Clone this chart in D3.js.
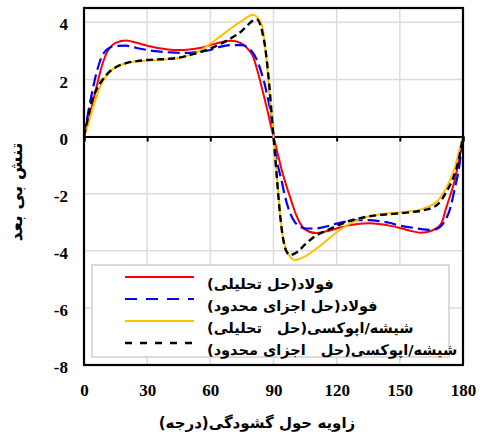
<!DOCTYPE html>
<html>
<head>
<meta charset="utf-8">
<script src="https://cdn.jsdelivr.net/npm/d3@7"></script>
<style>
  html, body { margin: 0; padding: 0; background: #fff; }
  svg { display: block; }
  .num { font-family: "Liberation Serif", "DejaVu Serif", serif; font-weight: bold; font-size: 17px; fill: #000; }
  .fa { font-family: "DejaVu Sans", sans-serif; font-weight: bold; fill: #000; white-space: pre; }
</style>
</head>
<body>
<svg id="chart" width="480" height="434"></svg>
<script>
// Crack-opening angle (degrees) at which every series is sampled
const angles = [0,2,4,6,8,10,12,15,20,25,30,35,40,45,50,55,60,65,70,75,78,80,82,84,85,86,87,88,89,90,
  91,92,93,94,95,96,98,100,102,105,110,115,120,125,130,135,140,145,150,155,160,165,168,170,172,174,176,178,180];

// Dimensionless stress: steel, analytical solution
const steelAnalytic = [0,0.5,1.15,1.75,2.35,2.8,3.08,3.28,3.36,3.28,3.18,3.1,3.05,3.03,3.05,3.1,3.2,3.3,3.35,3.25,3.05,2.85,2.4,1.85,1.55,1.25,0.95,0.62,0.3,0,
  -0.3,-0.6,-0.9,-1.2,-1.45,-1.7,-2.15,-2.6,-2.95,-3.25,-3.38,-3.32,-3.22,-3.12,-3.06,-3.04,-3.06,-3.12,-3.2,-3.3,-3.37,-3.3,-3.18,-3.0,-2.5,-2.05,-1.55,-0.85,0];

// Steel, finite element solution
const steelFem = [0,0.85,1.6,2.25,2.72,2.98,3.1,3.17,3.18,3.1,3.03,2.98,2.95,2.93,2.93,2.97,3.03,3.15,3.2,3.2,3.1,2.95,2.7,2.3,2.05,1.78,1.45,1.1,0.7,0,
  -0.6,-1.0,-1.3,-1.6,-1.95,-2.25,-2.7,-2.98,-3.12,-3.22,-3.22,-3.15,-3.05,-2.97,-2.93,-2.93,-2.96,-3.02,-3.12,-3.18,-3.24,-3.27,-3.22,-3.1,-2.88,-2.5,-1.85,-1.15,0];

// Glass/epoxy, analytical solution
const glassAnalytic = [0,0.42,0.95,1.4,1.8,2.05,2.25,2.43,2.57,2.63,2.66,2.68,2.71,2.75,2.85,3.0,3.25,3.52,3.8,4.05,4.2,4.26,4.2,3.98,3.75,3.15,2.4,1.6,0.8,0,
  -0.85,-1.75,-2.6,-3.3,-3.7,-3.95,-4.22,-4.32,-4.3,-4.2,-3.95,-3.66,-3.35,-3.1,-2.92,-2.8,-2.73,-2.69,-2.66,-2.62,-2.55,-2.4,-2.25,-2.05,-1.8,-1.5,-1.1,-0.55,0];

// Glass/epoxy, finite element solution
const glassFem = [0,0.7,1.3,1.65,1.9,2.1,2.26,2.42,2.57,2.64,2.68,2.7,2.72,2.76,2.85,2.95,3.08,3.25,3.45,3.7,3.92,4.05,4.1,3.85,3.55,3.15,2.55,1.8,0.9,0,
  -0.9,-1.8,-2.65,-3.3,-3.75,-4.0,-4.15,-4.1,-4.0,-3.78,-3.48,-3.3,-3.13,-2.98,-2.88,-2.8,-2.75,-2.72,-2.69,-2.65,-2.6,-2.5,-2.38,-2.2,-1.95,-1.68,-1.32,-0.8,0];

const xTicks = [0,30,60,90,120,150,180];
const yTicks = [-8,-6,-4,-2,0,2,4];
const legendLabels = [
  "فولاد(حل تحلیلی)",
  "فولاد(حل اجزای محدود)",
  "شیشه/اپوکسی(حل   تحلیلی)",
  "شیشه/اپوکسی(حل   اجزای محدود)"
];
const xTitle = "زاویه حول گشودگی(درجه)";
const yTitle = "تنش بی بعد";

const series = [
  { values: steelAnalytic, color: "#ff0000", width: 2,   dash: null,  legendDash: null },
  { values: steelFem,      color: "#0000ff", width: 2.2, dash: "12,5", legendDash: "12,9" },
  { values: glassAnalytic, color: "#ffc000", width: 2,   dash: null,  legendDash: null },
  { values: glassFem,      color: "#000000", width: 2.4, dash: "7,4", legendDash: "7,8" }
];

const svg = d3.select("#chart");
const plot = { left: 84, right: 463, top: 8, bottom: 365 };

const x = d3.scaleLinear().domain([0, 180]).range([plot.left, plot.right]);
const y = d3.scaleLinear().domain([-8, 4.5]).range([plot.bottom, plot.top]);

// Grid
const grid = svg.append("g").attr("stroke", "#dcdcdc").attr("stroke-width", 1.5);
grid.selectAll("line.gx").data(xTicks.slice(1, -1)).join("line")
  .attr("x1", d => x(d)).attr("x2", d => x(d))
  .attr("y1", plot.top).attr("y2", plot.bottom);
grid.selectAll("line.gy").data(yTicks.filter(d => d > -8)).join("line")
  .attr("x1", plot.left).attr("x2", plot.right)
  .attr("y1", d => y(d)).attr("y2", d => y(d));

// Zero line with downward ticks
const zeroAxis = svg.append("g")
  .attr("transform", `translate(0,${y(0)})`)
  .call(d3.axisBottom(x).tickValues(xTicks).tickSize(5).tickFormat(""));
zeroAxis.select(".domain").attr("stroke", "#000").attr("stroke-width", 2);
zeroAxis.selectAll(".tick line").attr("stroke", "#000").attr("stroke-width", 2);

// Tick labels
const xAxis = svg.append("g")
  .attr("transform", `translate(0,${plot.bottom})`)
  .call(d3.axisBottom(x).tickValues(xTicks).tickSize(0).tickPadding(19).tickFormat(d => String(d)));
xAxis.select(".domain").remove();
xAxis.selectAll("text").attr("class", "num").attr("fill", null);

const yAxis = svg.append("g")
  .attr("transform", `translate(${plot.left},0)`)
  .call(d3.axisLeft(y).tickValues(yTicks).tickSize(0).tickPadding(16).tickFormat(d => String(d)));
yAxis.select(".domain").remove();
yAxis.selectAll("text").attr("class", "num").attr("fill", null).attr("dy", "0.45em");

// Curves
const line = d3.line()
  .x((d, i) => x(angles[i]))
  .y(d => y(d))
  .curve(d3.curveMonotoneX);

const curves = svg.append("g").attr("fill", "none");
series.forEach(s => {
  curves.append("path")
    .attr("d", line(s.values))
    .attr("stroke", s.color)
    .attr("stroke-width", s.width)
    .attr("stroke-dasharray", s.dash);
});

// Frame
svg.append("rect")
  .attr("x", plot.left).attr("y", plot.top)
  .attr("width", plot.right - plot.left).attr("height", plot.bottom - plot.top)
  .attr("fill", "none").attr("stroke", "#000").attr("stroke-width", 2.2);

// Place a text so that its bounding box starts at (or is centred on) a given x
function placeX(sel, target, mode) {
  const b = sel.node().getBBox();
  const cur = mode === "center" ? b.x + b.width / 2 : b.x;
  sel.attr("x", +sel.attr("x") + (target - cur));
}

// Legend
const legend = svg.append("g");
legend.append("rect")
  .attr("x", 92).attr("y", 265).attr("width", 357).attr("height", 92)
  .attr("fill", "#fff").attr("stroke", "#d0d0d0").attr("stroke-width", 1.5);
series.forEach((s, i) => {
  const ly = 277 + i * 22;
  legend.append("line")
    .attr("x1", 125).attr("x2", 194).attr("y1", ly).attr("y2", ly)
    .attr("stroke", s.color).attr("stroke-width", s.width)
    .attr("stroke-dasharray", s.legendDash);
  const t = legend.append("text")
    .attr("class", "fa")
    .attr("x", 207).attr("y", ly + 12)
    .attr("direction", "rtl")
    .attr("font-size", 14.5)
    .text(legendLabels[i]);
  placeX(t, 207, "start");
});

// Axis titles
const xt = svg.append("text")
  .attr("class", "fa")
  .attr("x", 257).attr("y", 428)
  .attr("direction", "rtl")
  .attr("font-size", 15)
  .text(xTitle);
placeX(xt, 257, "center");

const yt = svg.append("text")
  .attr("class", "fa")
  .attr("x", 0).attr("y", 0)
  .attr("font-size", 17)
  .text(yTitle);
const yb = yt.node().getBBox();
yt.attr("transform", `translate(22,192) rotate(-90) translate(${-(yb.x + yb.width / 2)},0)`);
</script>
</body>
</html>
